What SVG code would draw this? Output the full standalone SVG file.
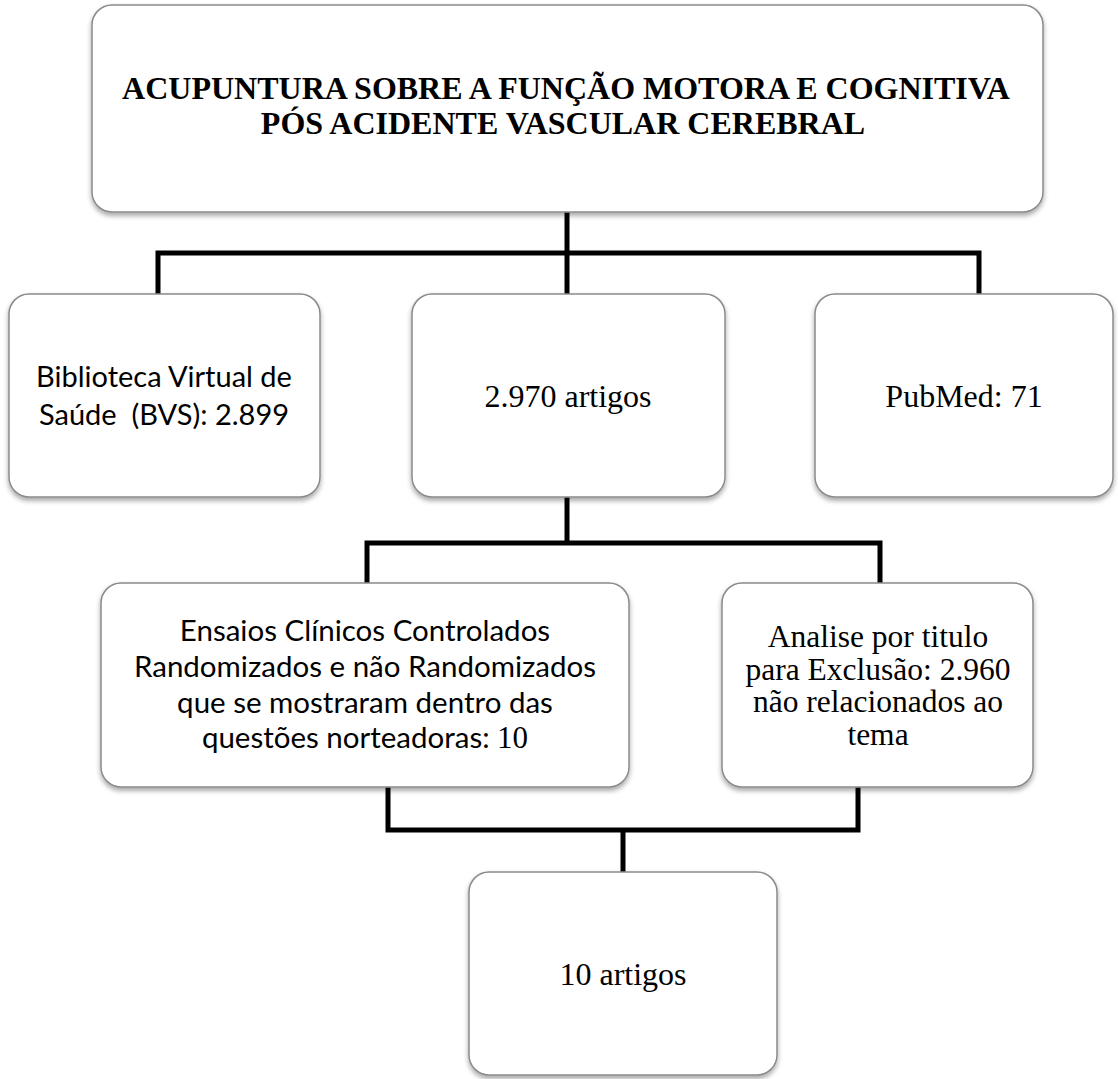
<svg xmlns="http://www.w3.org/2000/svg" width="1118" height="1079" viewBox="0 0 1118 1079">
<defs>
<filter id="sh" x="-10%" y="-10%" width="120%" height="125%">
<feDropShadow dx="0" dy="3" stdDeviation="2.5" flood-color="#000" flood-opacity="0.35"/>
</filter>
<style>
.box{fill:#fff;stroke:#8a8a8a;stroke-width:1.5;filter:url(#sh)}
.serif{font-family:"Liberation Serif","Times New Roman",serif;fill:#000;text-anchor:middle}
.sans{font-family:Lato,"Liberation Sans",sans-serif;fill:#000;text-anchor:middle}
.conn{fill:none;stroke:#000;stroke-width:5;stroke-linejoin:miter}
</style>
</defs>
<g id="connectors">
<path class="conn" d="M567 212 V253 M158 294 V253 H979 V294 M567 253 V294"/>
<path class="conn" d="M567 497 V543 M367 583 V543 H880 V583"/>
<path class="conn" d="M388 787 V830 H858 V787 M623 830 V872"/>
</g>
<g id="title">
<rect class="box" x="92" y="5" width="951" height="207" rx="20"/>
<text class="serif" font-weight="bold" font-size="32" x="566" y="99">ACUPUNTURA SOBRE A FUNÇÃO MOTORA E COGNITIVA</text>
<text class="serif" font-weight="bold" font-size="32" x="563" y="134">PÓS ACIDENTE VASCULAR CEREBRAL</text>
</g>
<g id="bvs">
<rect class="box" x="9" y="294" width="311" height="203" rx="20"/>
<text class="sans" font-size="29" x="164" y="387">Biblioteca Virtual de</text>
<text class="sans" font-size="29" x="164" y="425" xml:space="preserve">Saúde  (BVS): 2.899</text>
</g>
<g id="total">
<rect class="box" x="412" y="294" width="313" height="203" rx="20"/>
<text class="serif" font-size="32" x="568" y="407">2.970 artigos</text>
</g>
<g id="pubmed">
<rect class="box" x="815" y="294" width="298" height="203" rx="20"/>
<text class="serif" font-size="32" x="964" y="407">PubMed: 71</text>
</g>
<g id="ensaios">
<rect class="box" x="101" y="583" width="528" height="204" rx="20"/>
<text class="sans" font-size="29.5" x="365" y="641">Ensaios Clínicos Controlados</text>
<text class="sans" font-size="29.5" x="365" y="677">Randomizados e não Randomizados</text>
<text class="sans" font-size="29.5" x="365" y="713">que se mostraram dentro das</text>
<text class="sans" font-size="29.5" x="365" y="748">questões norteadoras: <tspan class="serif" font-size="31">10</tspan></text>
</g>
<g id="analise">
<rect class="box" x="722" y="583" width="311" height="204" rx="20"/>
<text class="serif" font-size="31.5" x="878" y="647">Analise por titulo</text>
<text class="serif" font-size="31.5" x="878" y="680">para Exclusão: 2.960</text>
<text class="serif" font-size="31.5" x="878" y="712">não relacionados ao</text>
<text class="serif" font-size="31.5" x="878" y="745">tema</text>
</g>
<g id="final">
<rect class="box" x="469" y="872" width="308" height="203" rx="20"/>
<text class="serif" font-size="32" x="623" y="985">10 artigos</text>
</g>
</svg>
